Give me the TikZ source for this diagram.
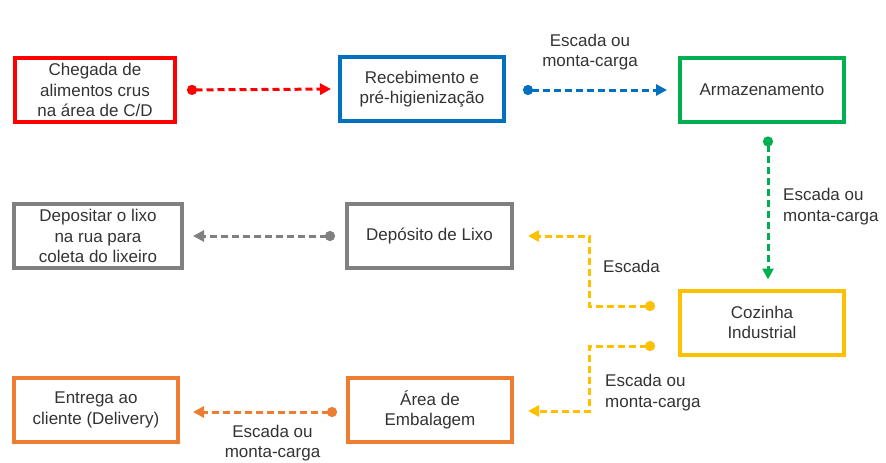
\documentclass[tikz,border=0pt]{standalone}
\usepackage{fontspec}
\setmainfont{Liberation Sans}
\usetikzlibrary{arrows.meta}
\definecolor{cRed}{HTML}{FF0000}
\definecolor{cBlue}{HTML}{0070C0}
\definecolor{cGreen}{HTML}{00B050}
\definecolor{cGray}{HTML}{808080}
\definecolor{cYellow}{HTML}{FFC000}
\definecolor{cOrange}{HTML}{ED7D31}
\definecolor{txt}{HTML}{333333}
\tikzset{
 box/.style={draw=#1, line width=4pt, fill=white, minimum width=164pt, minimum height=64pt,
   align=center, text=txt, font=\fontsize{17}{20.5}\selectfont},
 link/.style={draw=#1, line width=3pt, dash pattern=on 7pt off 4pt,
   {Circle[length=10pt]}-{Triangle[length=11pt,width=11pt]}},
 note/.style={text=txt, font=\fontsize{17}{20.5}\selectfont, inner sep=0pt}
}
\begin{document}
\begin{tikzpicture}[x=1pt, y=-1pt]
\useasboundingbox (0,0) rectangle (886,463);
\node[box=cRed, minimum width=160pt] (chegada) at (95,90) {Chegada de\\alimentos crus\\na área de C/D};
\node[box=cBlue] (receb) at (422,89) {Recebimento e\\pré-higienização};
\node[box=cGreen] (armaz) at (762,89.5) {Armazenamento};
\node[box=cGray, minimum width=168pt] (depositar) at (98,236) {Depositar o lixo\\na rua para\\coleta do lixeiro};
\node[box=cGray, minimum width=165pt] (deposito) at (429.5,236) {Depósito de Lixo};
\node[box=cYellow] (cozinha) at (762,322.5) {Cozinha\\Industrial};
\node[box=cOrange] (entrega) at (96,410) {Entrega ao\\cliente (Delivery)};
\node[box=cOrange] (embal) at (430,410) {Área de\\Embalagem};

\draw[link=cRed, shorten <=10pt, shorten >=7pt] (chegada.east) -- (receb.west);
\draw[link=cBlue, shorten <=17pt, shorten >=11pt] ([yshift=-1pt]receb.east) -- ([yshift=-0.5pt]armaz.west);
\draw[link=cGreen, shorten <=13pt, shorten >=9pt] ([xshift=6pt]armaz.south) -- ([xshift=6pt]cozinha.north);
\draw[link=cGray, shorten <=10pt, shorten >=9pt] (deposito.west) -- (depositar.east);
\draw[link=cYellow, shorten <=23pt, shorten >=14pt] ([yshift=16.5pt]cozinha.west) -- ++(-89,0) |- (deposito.east);
\draw[link=cYellow, shorten <=23pt, shorten >=14pt] ([yshift=-23.5pt]cozinha.west) -- ++(-89,0) |- ([yshift=-1pt]embal.east);
\draw[link=cOrange, shorten <=9pt, shorten >=13pt] ([yshift=-2pt]embal.west) -- ([yshift=-2pt]entrega.east);

\node[note, align=center] (lblA) at (590,52) {Escada ou\\monta-carga};
\node[note, align=left, anchor=west] (lblB) at (783,206.5) {Escada ou\\monta-carga};
\node[note, anchor=west] (lblC) at (603,266) {Escada};
\node[note, align=left, anchor=west] (lblD) at (605,392.5) {Escada ou\\monta-carga};
\node[note, align=center] (lblE) at (272.5,443) {Escada ou\\monta-carga};
\end{tikzpicture}
\end{document}
